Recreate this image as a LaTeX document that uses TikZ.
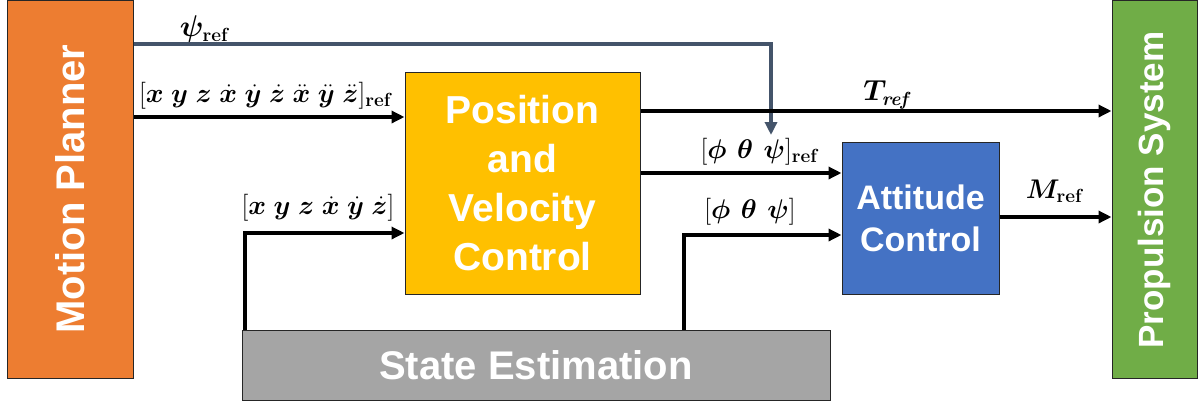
\RequirePackage{fix-cm}
\documentclass[tikz,border=0pt]{standalone}
\usepackage{amsmath,bm}
\usepackage{fontspec}
\newfontfamily\arialfont{Liberation Sans}
\usetikzlibrary{arrows.meta}
\definecolor{mporange}{HTML}{ED7D31}
\definecolor{pvyellow}{HTML}{FFC000}
\definecolor{acblue}{HTML}{4472C4}
\definecolor{segray}{HTML}{A5A5A5}
\definecolor{psgreen}{HTML}{70AD47}
\definecolor{slate}{HTML}{44546A}
\definecolor{edge}{HTML}{262626}
\newcommand\refsub{_{\mbox{\fontsize{19}{19}\selectfont\bfseries ref}}}
\newcommand\refsubit{_{\mbox{\fontsize{19}{19}\selectfont\bfseries\itshape ref}}}
\newcommand\gsp{\mkern7mu}
\tikzset{
  blockbox/.style={draw=edge, line width=1pt, inner sep=0pt, text=white,
    font=\arialfont\bfseries, align=center},
  sig/.style={line width=3.6pt, -{Triangle[length=13pt,width=12pt]}},
  slatesig/.style={line width=3.6pt, draw=slate, -{Triangle[length=13pt,width=12pt]}, color=slate},
  lbl/.style={inner sep=0pt, font=\fontsize{27}{31}\selectfont},
}
\begin{document}
\begin{tikzpicture}[x=1pt,y=-1pt]
\useasboundingbox (0,0) rectangle (1199,405);
% blocks
\node[blockbox, fill=mporange, minimum width=126pt, minimum height=378pt] (mp) at (70,189) {};
\node[text=white, font=\arialfont\bfseries\fontsize{40}{44}\selectfont, rotate=90] (mpt) at (70,189) {Motion Planner};
\node[blockbox, fill=psgreen, minimum width=85pt, minimum height=378pt] (ps) at (1154.5,189) {};
\node[text=white, font=\arialfont\bfseries\fontsize{35}{40}\selectfont, rotate=90] (pst) at (1154.5,190) {Propulsion System};
\node[blockbox, fill=pvyellow, minimum width=235pt, minimum height=222pt,
  font=\arialfont\bfseries\fontsize{39}{49}\selectfont] (pv) at (522.5,183) {Position\\and\\Velocity\\Control};
\node[blockbox, fill=acblue, minimum width=157pt, minimum height=152pt,
  font=\arialfont\bfseries\fontsize{34}{42}\selectfont] (ac) at (920.5,218) {Attitude\\Control};
\node[blockbox, fill=segray, minimum width=588pt, minimum height=70pt,
  font=\arialfont\bfseries\fontsize{40}{44}\selectfont] (se) at (536,365) {State Estimation};
% connectors
\coordinate (psiend) at (771,135);
\draw[slatesig] (mp.east |- 0,44) -| (psiend);
\draw[sig] (mp.east |- 0,117) -- (pv.west |- 0,117);
\draw[sig] (pv.east |- 0,111) -- (ps.west |- 0,111);
\draw[sig] (pv.east |- 0,173) -- (ac.west |- 0,173);
\draw[sig] (se.north -| 245,0) |- (pv.west |- 0,233);
\draw[sig] (se.north -| 684,0) |- (ac.west |- 0,235);
\draw[sig] (ac.east |- 0,217) -- (ps.west |- 0,217);
% labels
\node[lbl, font=\fontsize{30}{34}\selectfont] (lpsi) at (204,29) {$\boldsymbol{\psi}\refsub$};
\node[lbl] (lxref) at (265,96) {$[\boldsymbol{x\;y\;z\;\dot x\;\dot y\;\dot z\;\ddot x\;\ddot y\;\ddot z}]\refsub$};
\node[lbl, font=\fontsize{29}{33}\selectfont] (lT) at (886,95) {$\boldsymbol{T}\refsubit$};
\node[lbl] (lphiref) at (759,152) {$[\boldsymbol{\phi\gsp\theta\gsp\psi}]\refsub$};
\node[lbl] (lxyz) at (318,208) {$[\boldsymbol{x\;y\;z\;\dot x\;\dot y\;\dot z}]$};
\node[lbl] (lphi) at (750,212) {$[\boldsymbol{\phi\gsp\theta\gsp\psi}]$};
\node[lbl] (lM) at (1054,191) {$\boldsymbol{M}\refsub$};
\end{tikzpicture}
\end{document}
